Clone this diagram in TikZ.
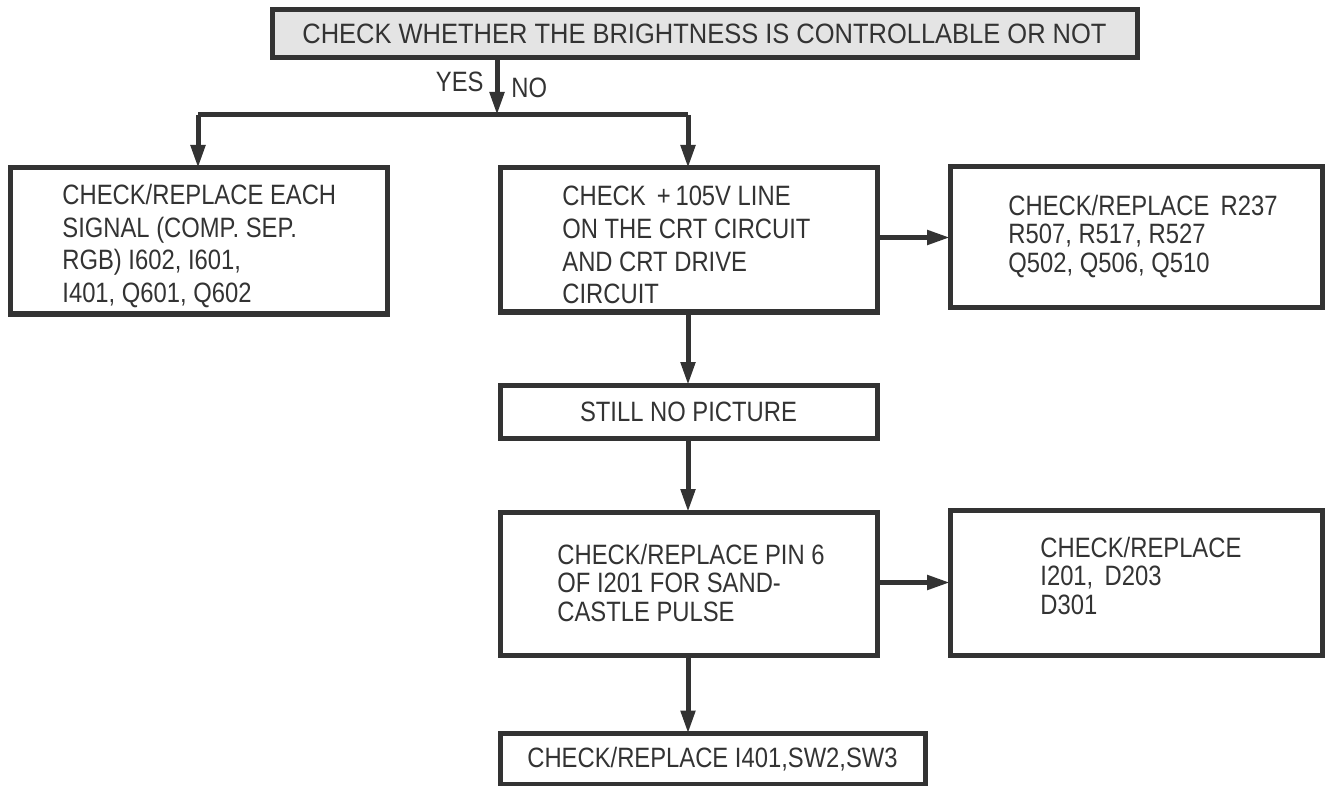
\documentclass[tikz,border=0pt]{standalone}
\usepackage{fontspec}
\setmainfont{Liberation Sans}
\newfontfamily\bodyfont[FakeStretch=0.85]{Liberation Sans}
\newfontfamily\topfont[FakeStretch=0.91]{Liberation Sans}
\usetikzlibrary{arrows.meta}
\definecolor{ink}{HTML}{333333}
\definecolor{topfill}{HTML}{E4E4E4}
\tikzset{
  box/.style={draw=ink, line width=2.5pt, inner sep=0pt, outer sep=0pt, text=ink, font=\bodyfont\fontsize{14}{14.5}\selectfont},
  conn/.style={draw=ink, line width=2.5pt, -{Triangle[length=11.5pt,width=7pt]}},
  lineonly/.style={draw=ink, line width=2.5pt},
  lbl/.style={text=ink, font=\bodyfont\fontsize{14}{14.5}\selectfont, inner sep=0pt},
  para/.style={lbl, anchor=north west, align=left},
  widepara/.style={para, font=\bodyfont\fontsize{14}{16.3}\selectfont},
  narrowpara/.style={para, font=\bodyfont\fontsize{14}{14.1}\selectfont}
}
\begin{document}
\begin{tikzpicture}[x=0.5pt,y=-0.5pt]
\useasboundingbox (0,0) rectangle (1333,786);
% boxes
\node[box, fill=topfill, minimum width=432.5pt, minimum height=24pt, font=\topfont\fontsize{14}{14.5}\selectfont] (top) at (704.5,34) {CHECK WHETHER THE BRIGHTNESS IS CONTROLLABLE OR NOT};
\node[box, minimum width=188.5pt, minimum height=73pt] (left) at (198.5,241) {};
\node[widepara] (lefttext) at (62,184) {CHECK/REPLACE EACH\\SIGNAL (COMP. SEP.\\RGB) I602, I601,\\I401, Q601, Q602};
\node[box, minimum width=188.5pt, minimum height=72pt] (mid) at (688.5,240) {};
\node[widepara] (midtext) at (562,186) {CHECK \,+\,105V LINE\\ON THE CRT CIRCUIT\\AND CRT DRIVE\\CIRCUIT};
\node[box, minimum width=186pt, minimum height=70.5pt] (r1) at (1136,237.5) {};
\node[narrowpara] (r1text) at (1008,195) {CHECK/REPLACE \,R237\\R507, R517, R527\\Q502, Q506, Q510};
\node[box, minimum width=188.5pt, minimum height=26.5pt] (still) at (688.5,411.5) {STILL NO PICTURE};
\node[box, minimum width=188.5pt, minimum height=71.5pt] (pin) at (688.5,583.5) {};
\node[narrowpara] (pintext) at (557,544) {CHECK/REPLACE PIN 6\\OF I201 FOR SAND-\\CASTLE PULSE};
\node[box, minimum width=186pt, minimum height=72.5pt] (r2) at (1136,582.5) {};
\node[narrowpara] (r2text) at (1040,537) {CHECK/REPLACE\\I201, \,D203\\D301};
\node[box, minimum width=212.5pt, minimum height=25.5pt] (bot) at (712.5,759) {CHECK/REPLACE I401,SW2,SW3};
% connectors
\coordinate (split) at (497,115);
\coordinate (lc) at (198,115);
\coordinate (mc) at (688,115);
\draw[conn] (top.south -| split) -- (split);
\draw[lineonly] (lc) -- (mc);
\draw[conn] (lc) -- (left.north -| lc);
\draw[conn] (mc) -- (mid.north -| mc);
\node[lbl, anchor=east] (yes) at (484,82) {YES};
\node[lbl, anchor=west] (no) at (511,88) {NO};
\draw[conn] (mid.east |- r1) -- (r1.west);
\draw[conn] (mid.south -| mc) -- (still.north -| mc);
\draw[conn] (still.south -| mc) -- (pin.north -| mc);
\draw[conn] (pin.east |- r2) -- (r2.west);
\draw[conn] (pin.south -| mc) -- (bot.north -| mc);
\end{tikzpicture}
\end{document}
